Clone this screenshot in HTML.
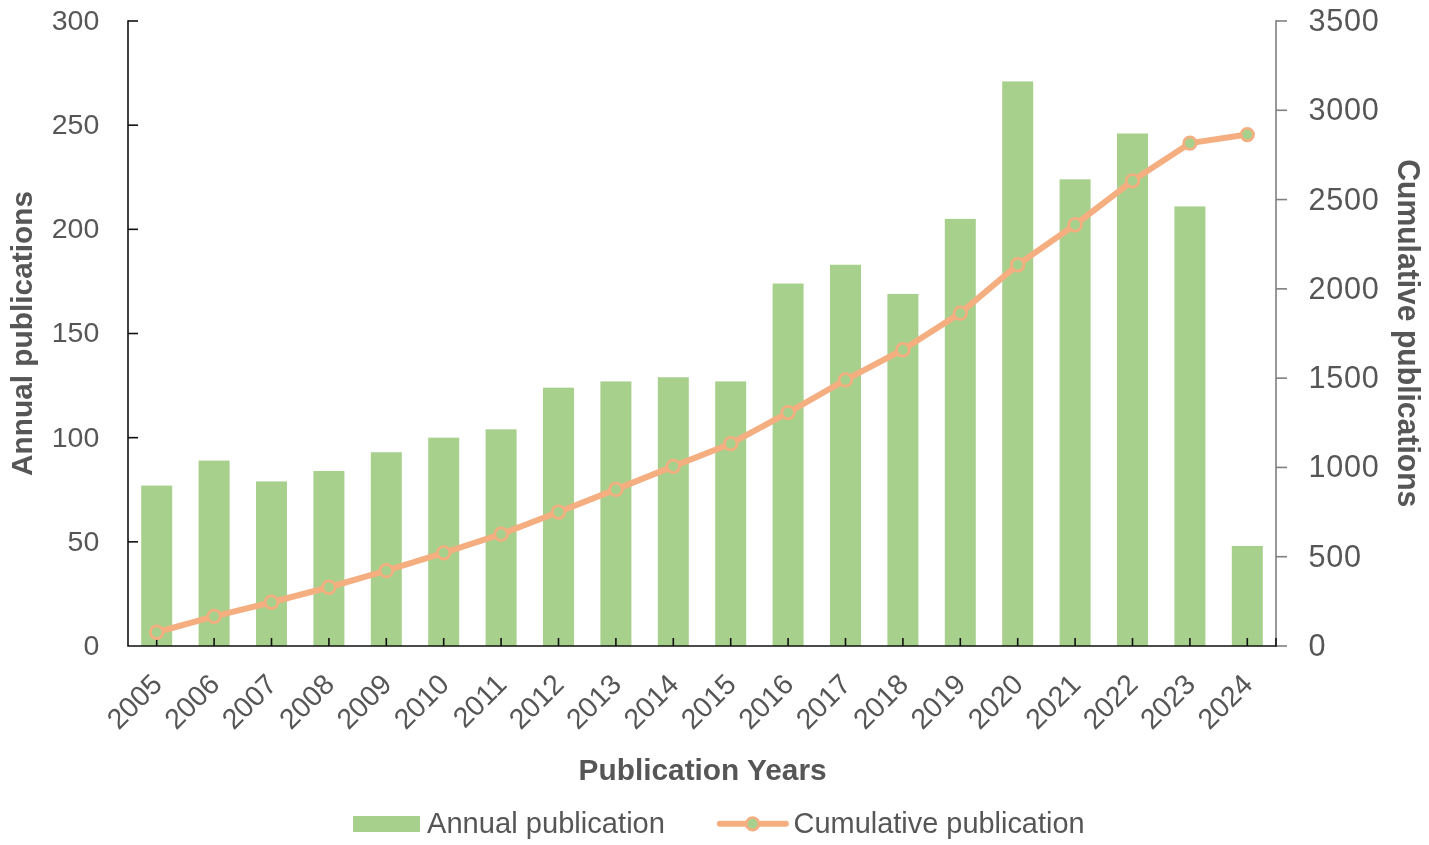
<!DOCTYPE html>
<html lang="en"><head><meta charset="utf-8"><title>Annual and cumulative publications</title>
<style>html,body{margin:0;padding:0;background:#fff}body{width:1429px;height:845px;overflow:hidden}svg{display:block}text{font-family:"Liberation Sans",sans-serif;fill:#565656}.b{font-weight:bold}</style></head><body>
<svg width="1429" height="845" viewBox="0 0 1429 845">
<rect width="1429" height="845" fill="#fff"/>
<g fill="#a8d08d">
<rect x="141.20" y="485.58" width="31.00" height="160.42"/>
<rect x="198.60" y="460.58" width="31.00" height="185.42"/>
<rect x="256.00" y="481.42" width="31.00" height="164.58"/>
<rect x="313.40" y="471.00" width="31.00" height="175.00"/>
<rect x="370.80" y="452.25" width="31.00" height="193.75"/>
<rect x="428.20" y="437.67" width="31.00" height="208.33"/>
<rect x="485.60" y="429.33" width="31.00" height="216.67"/>
<rect x="543.00" y="387.67" width="31.00" height="258.33"/>
<rect x="600.40" y="381.42" width="31.00" height="264.58"/>
<rect x="657.80" y="377.25" width="31.00" height="268.75"/>
<rect x="715.20" y="381.42" width="31.00" height="264.58"/>
<rect x="772.60" y="283.50" width="31.00" height="362.50"/>
<rect x="830.00" y="264.75" width="31.00" height="381.25"/>
<rect x="887.40" y="293.92" width="31.00" height="352.08"/>
<rect x="944.80" y="218.92" width="31.00" height="427.08"/>
<rect x="1002.20" y="81.42" width="31.00" height="564.58"/>
<rect x="1059.60" y="179.33" width="31.00" height="466.67"/>
<rect x="1117.00" y="133.50" width="31.00" height="512.50"/>
<rect x="1174.40" y="206.42" width="31.00" height="439.58"/>
<rect x="1231.80" y="546.00" width="31.00" height="100.00"/>
</g>
<g stroke="#111" stroke-width="1.6" fill="none">
<path d="M128.00 20.15V646.00H1276.00"/>
<path d="M128.00 541.83h10"/>
<path d="M128.00 437.67h10"/>
<path d="M128.00 333.50h10"/>
<path d="M128.00 229.33h10"/>
<path d="M128.00 125.17h10"/>
<path d="M128.00 21.00h10"/>
<path d="M156.70 646.00v-8"/>
<path d="M214.10 646.00v-8"/>
<path d="M271.50 646.00v-8"/>
<path d="M328.90 646.00v-8"/>
<path d="M386.30 646.00v-8"/>
<path d="M443.70 646.00v-8"/>
<path d="M501.10 646.00v-8"/>
<path d="M558.50 646.00v-8"/>
<path d="M615.90 646.00v-8"/>
<path d="M673.30 646.00v-8"/>
<path d="M730.70 646.00v-8"/>
<path d="M788.10 646.00v-8"/>
<path d="M845.50 646.00v-8"/>
<path d="M902.90 646.00v-8"/>
<path d="M960.30 646.00v-8"/>
<path d="M1017.70 646.00v-8"/>
<path d="M1075.10 646.00v-8"/>
<path d="M1132.50 646.00v-8"/>
<path d="M1189.90 646.00v-8"/>
<path d="M1247.30 646.00v-8"/>
</g>
<g stroke="#7f7f7f" stroke-width="1.6" fill="none">
<path d="M1276.00 20.20V646.80"/>
<path d="M1276.00 646.00h11"/>
<path d="M1276.00 556.71h11"/>
<path d="M1276.00 467.43h11"/>
<path d="M1276.00 378.14h11"/>
<path d="M1276.00 288.86h11"/>
<path d="M1276.00 199.57h11"/>
<path d="M1276.00 110.29h11"/>
<path d="M1276.00 21.00h11"/>
</g>
<path d="M1276.00 646.80v-8.8" stroke="#111" stroke-width="1.6" fill="none"/>
<polyline fill="none" stroke="#f4ae80" stroke-width="6.00" stroke-linejoin="round" stroke-linecap="round" points="156.70,632.25 214.10,616.36 271.50,602.25 328.90,587.25 386.30,570.64 443.70,552.79 501.10,534.21 558.50,512.07 615.90,489.39 673.30,466.36 730.70,443.68 788.10,412.61 845.50,379.93 902.90,349.75 960.30,313.14 1017.70,264.75 1075.10,224.75 1132.50,180.82 1189.90,143.14 1247.30,134.57"/>
<g fill="#a8d08d" stroke="#f4ae80" stroke-width="2.70">
<circle cx="156.70" cy="632.25" r="6.30" fill="#a8d08d"/>
<circle cx="214.10" cy="616.36" r="6.30" fill="#a8d08d"/>
<circle cx="271.50" cy="602.25" r="6.30" fill="#a8d08d"/>
<circle cx="328.90" cy="587.25" r="6.30" fill="#a8d08d"/>
<circle cx="386.30" cy="570.64" r="6.30" fill="#a8d08d"/>
<circle cx="443.70" cy="552.79" r="6.30" fill="#a8d08d"/>
<circle cx="501.10" cy="534.21" r="6.30" fill="#a8d08d"/>
<circle cx="558.50" cy="512.07" r="6.30" fill="#a8d08d"/>
<circle cx="615.90" cy="489.39" r="6.30" fill="#a8d08d"/>
<circle cx="673.30" cy="466.36" r="6.30" fill="#a8d08d"/>
<circle cx="730.70" cy="443.68" r="6.30" fill="#a8d08d"/>
<circle cx="788.10" cy="412.61" r="6.30" fill="#a8d08d"/>
<circle cx="845.50" cy="379.93" r="6.30" fill="#a8d08d"/>
<circle cx="902.90" cy="349.75" r="6.30" fill="#a8d08d"/>
<circle cx="960.30" cy="313.14" r="6.30" fill="#a8d08d"/>
<circle cx="1017.70" cy="264.75" r="6.30" fill="#a8d08d"/>
<circle cx="1075.10" cy="224.75" r="6.30" fill="#a8d08d"/>
<circle cx="1132.50" cy="180.82" r="6.30" fill="#a8d08d"/>
<circle cx="1189.90" cy="143.14" r="6.30"/>
<circle cx="1247.30" cy="134.57" r="6.30"/>
</g>
<g font-size="28.50" text-anchor="end">
<text x="99.30" y="654.90">0</text>
<text x="99.30" y="550.73">50</text>
<text x="99.30" y="446.57">100</text>
<text x="99.30" y="342.40">150</text>
<text x="99.30" y="238.23">200</text>
<text x="99.30" y="134.07">250</text>
<text x="99.30" y="29.90">300</text>
</g>
<g font-size="30.60" letter-spacing="0.75">
<text x="1308.50" y="656.00">0</text>
<text x="1308.50" y="566.71">500</text>
<text x="1308.50" y="477.43">1000</text>
<text x="1308.50" y="388.14">1500</text>
<text x="1308.50" y="298.86">2000</text>
<text x="1308.50" y="209.57">2500</text>
<text x="1308.50" y="120.29">3000</text>
<text x="1308.50" y="31.00">3500</text>
</g>
<g font-size="28.50" text-anchor="end">
<text transform="translate(163.70 686.00) rotate(-45)">2005</text>
<text transform="translate(221.10 686.00) rotate(-45)">2006</text>
<text transform="translate(278.50 686.00) rotate(-45)">2007</text>
<text transform="translate(335.90 686.00) rotate(-45)">2008</text>
<text transform="translate(393.30 686.00) rotate(-45)">2009</text>
<text transform="translate(450.70 686.00) rotate(-45)">2010</text>
<text transform="translate(508.10 686.00) rotate(-45)">2011</text>
<text transform="translate(565.50 686.00) rotate(-45)">2012</text>
<text transform="translate(622.90 686.00) rotate(-45)">2013</text>
<text transform="translate(680.30 686.00) rotate(-45)">2014</text>
<text transform="translate(737.70 686.00) rotate(-45)">2015</text>
<text transform="translate(795.10 686.00) rotate(-45)">2016</text>
<text transform="translate(852.50 686.00) rotate(-45)">2017</text>
<text transform="translate(909.90 686.00) rotate(-45)">2018</text>
<text transform="translate(967.30 686.00) rotate(-45)">2019</text>
<text transform="translate(1024.70 686.00) rotate(-45)">2020</text>
<text transform="translate(1082.10 686.00) rotate(-45)">2021</text>
<text transform="translate(1139.50 686.00) rotate(-45)">2022</text>
<text transform="translate(1196.90 686.00) rotate(-45)">2023</text>
<text transform="translate(1254.30 686.00) rotate(-45)">2024</text>
</g>
<text class="b" font-size="29.00" text-anchor="middle" textLength="285.0" lengthAdjust="spacingAndGlyphs" transform="translate(32.20 333.50) rotate(-90)">Annual publications</text>
<text class="b" font-size="31.50" text-anchor="middle" textLength="348.0" lengthAdjust="spacingAndGlyphs" transform="translate(1398.00 333.30) rotate(90)">Cumulative publications</text>
<text class="b" font-size="29.00" text-anchor="middle" textLength="248.0" lengthAdjust="spacingAndGlyphs" x="702.60" y="780.00">Publication Years</text>
<rect x="353" y="816" width="67" height="16" fill="#a8d08d"/>
<text font-size="29.00" x="427.00" y="832.60" textLength="238.0" lengthAdjust="spacingAndGlyphs">Annual publication</text>
<path d="M719.8 823.8H785.9" stroke="#f4ae80" stroke-width="6.00" stroke-linecap="round" fill="none"/>
<circle cx="752.6" cy="823.8" r="6.30" fill="#a8d08d" stroke="#f4ae80" stroke-width="2.70"/>
<text font-size="29.00" x="793.60" y="832.60" textLength="291.0" lengthAdjust="spacingAndGlyphs">Cumulative publication</text>
</svg></body></html>
